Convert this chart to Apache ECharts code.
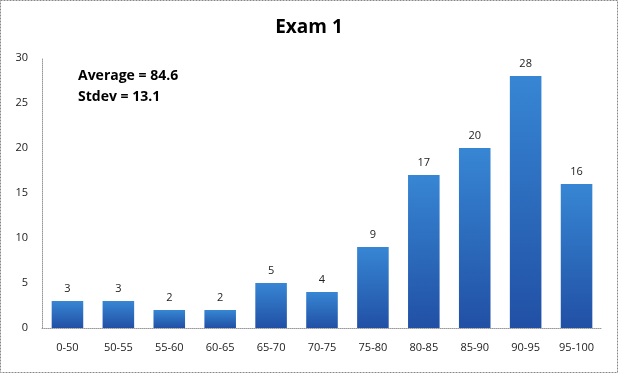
<!DOCTYPE html>
<html><head><meta charset="utf-8">
<script src="https://cdn.jsdelivr.net/npm/echarts@6/dist/echarts.min.js"></script>
<style>html,body{margin:0;padding:0;background:#fff}#c{width:618px;height:373px}</style>
</head><body><div id="c"></div>
<script>
var categories = ['0-50','50-55','55-60','60-65','65-70','70-75','75-80','80-85','85-90','90-95','95-100'];
var counts = [3,3,2,2,5,4,9,17,20,28,16];
var yTicks = [0,5,10,15,20,25,30];
var chart = echarts.init(document.getElementById('c'));
var fnt = 'Open Sans, Liberation Sans, sans-serif';
chart.setOption({
  animation:false,
  title:{text:'Exam 1',left:'center',top:13,textStyle:{fontFamily:fnt,fontSize:19,fontWeight:'bold',color:'#000'}},
  graphic:[
    {type:'rect',shape:{x:0.5,y:0.5,width:617,height:372},style:{fill:'none',stroke:'#888',lineWidth:1,lineDash:[2,1]}},
    {type:'text',left:78,top:66,style:{text:'Average = 84.6\nStdev = 13.1',font:'bold 14px '+fnt,fill:'#000',lineHeight:21}}
  ],
  grid:{left:42,right:16,top:58,bottom:45},
  xAxis:{type:'category',data:categories,
    axisLine:{lineStyle:{color:'#999',type:'dotted'}},axisTick:{show:false},
    axisLabel:{color:'#222',fontFamily:fnt,fontSize:11,margin:14}},
  yAxis:{type:'value',min:0,max:30,interval:5,
    axisLine:{show:true,lineStyle:{color:'#999',type:'dotted'}},axisTick:{show:false},splitLine:{show:false},
    axisLabel:{color:'#222',fontFamily:fnt,fontSize:11,margin:14}},
  series:[{type:'bar',data:counts,barWidth:'62%',
    itemStyle:{color:new echarts.graphic.LinearGradient(0,0,0,1,[{offset:0,color:'#3786d4'},{offset:1,color:'#2150a5'}])},
    label:{show:true,position:'top',distance:7,color:'#222',fontFamily:fnt,fontSize:11}}]
});
</script></body></html>
